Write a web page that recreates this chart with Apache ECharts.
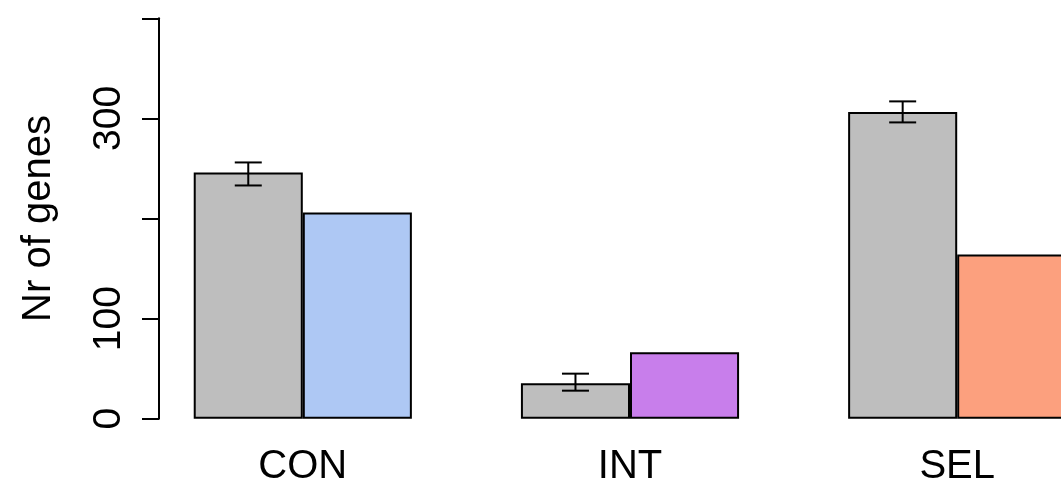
<!DOCTYPE html>
<html>
<head>
<meta charset="utf-8">
<script src="https://cdn.jsdelivr.net/npm/echarts@6/dist/echarts.min.js"></script>
<style>
  html, body { margin: 0; padding: 0; background: #ffffff; }
  #chart { width: 1061px; height: 487px; }
</style>
</head>
<body>
<div id="chart"></div>
<script>
// Groups and values
const categories = ['CON', 'INT', 'SEL'];
const baseValues = [246, 35.5, 306.5];        // grey bars
const errLow = [233, 28, 296];                // error bar lower ends
const errHigh = [256, 45, 317];               // error bar upper ends
const groupValues = [206, 66.5, 164];         // coloured bars
const groupColors = ['#AEC8F4', '#C87EEB', '#FCA07E'];
const yTicks = [0, 100, 200, 300, 400];
const yTickLabels = ['0', '100', '', '300', ''];

const FONT = "'Liberation Sans', Arial, Helvetica, sans-serif";

const chart = echarts.init(document.getElementById('chart'), null, { renderer: 'canvas' });

const option = {
  backgroundColor: '#ffffff',
  animation: false,
  // the plot region runs past the right edge of the canvas, so SEL's second bar is cut off
  grid: {
    left: 139.2, top: 18.3, width: 981.6, height: 400.4,
    containLabel: false, outerBoundsMode: 'none'
  },
  xAxis: {
    type: 'category',
    data: categories,
    axisLine: { show: false },
    axisTick: { show: false },
    axisLabel: {
      color: '#000', fontFamily: FONT, fontSize: 40, margin: 28
    }
  },
  yAxis: {
    type: 'value',
    min: yTicks[0],
    max: yTicks[yTicks.length - 1],
    interval: 100,
    offset: -19.8,
    name: 'Nr of genes',
    nameLocation: 'middle',
    nameGap: 100,
    nameRotate: 90,
    nameTextStyle: { color: '#000', fontFamily: FONT, fontSize: 40 },
    axisLine: { show: true, lineStyle: { color: '#000', width: 2 } },
    axisTick: { show: true, length: 17, lineStyle: { color: '#000', width: 2 } },
    splitLine: { show: false },
    axisLabel: {
      color: '#000', fontFamily: FONT, fontSize: 39, rotate: 90, margin: 30,
      formatter: v => yTickLabels[yTicks.indexOf(v)] ?? ''
    }
  },
  series: [
    {
      type: 'bar',
      data: baseValues,
      barGap: '0%',
      barCategoryGap: '33.33%',
      itemStyle: { color: '#BEBEBE', borderColor: '#000', borderWidth: 2 }
    },
    {
      type: 'bar',
      data: groupValues.map((v, i) => ({ value: v, itemStyle: { color: groupColors[i] } })),
      barGap: '0%',
      barCategoryGap: '33.33%',
      itemStyle: { borderColor: '#000', borderWidth: 2 }
    },
    {
      type: 'custom',
      data: categories.map((c, i) => [i, errLow[i], errHigh[i]]),
      z: 10,
      renderItem: function (params, api) {
        const i = api.value(0);
        const band = api.size([1, 0])[0];
        const dx = -band / 6;               // centre of the grey bar
        const lo = api.coord([i, api.value(1)]);
        const hi = api.coord([i, api.value(2)]);
        const x = lo[0] + dx;
        const cap = 13.5;
        const style = { stroke: '#000', lineWidth: 2 };
        return {
          type: 'group',
          children: [
            { type: 'line', shape: { x1: x, y1: lo[1], x2: x, y2: hi[1] }, style },
            { type: 'line', shape: { x1: x - cap, y1: lo[1], x2: x + cap, y2: lo[1] }, style },
            { type: 'line', shape: { x1: x - cap, y1: hi[1], x2: x + cap, y2: hi[1] }, style }
          ]
        };
      }
    }
  ]
};

chart.setOption(option);
</script>
</body>
</html>
